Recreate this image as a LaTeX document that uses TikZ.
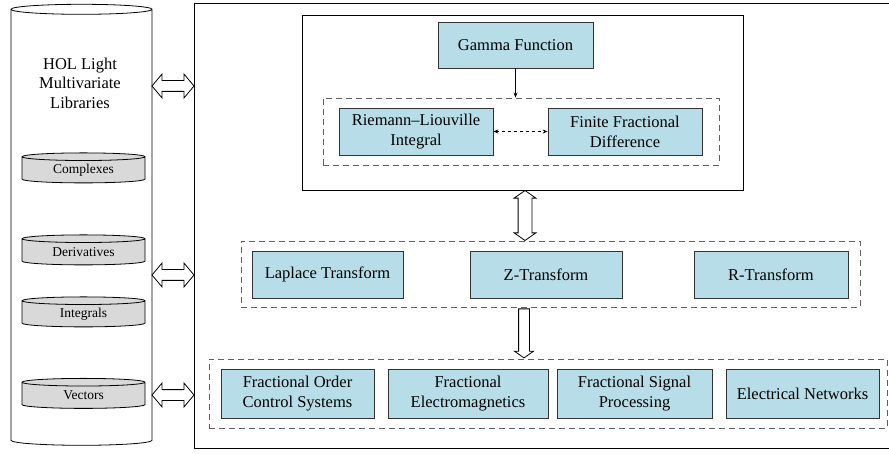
\documentclass[tikz,border=0pt]{standalone}
\usepackage{fontspec}
\setmainfont{Liberation Serif}
\usetikzlibrary{arrows.meta,shapes.geometric,shapes.arrows}
\definecolor{boxblue}{HTML}{B7DDE8}
\definecolor{dbgray}{HTML}{D9D9D9}
\definecolor{dashgray}{HTML}{5F5F5F}

\begin{document}
\begin{tikzpicture}[x=1pt,y=-1pt]
\useasboundingbox (0,0) rectangle (889,454);

% library side
\begin{scope}[every node/.style={cylinder,shape border rotate=90,draw,line width=0.8pt,
              inner sep=0pt,align=center,font=\fontsize{13.5}{16}\selectfont}]
    \node[aspect=0.071,text width=141,minimum height=441] (HOL) at (81.5,227.5) {};
    \node[fill=dbgray,aspect=0.062,text width=123,minimum height=30] (CX) at (83.5,170) {Complexes};
    \node[fill=dbgray,aspect=0.062,text width=123,minimum height=30] (DV) at (83.5,252) {Derivatives};
    \node[fill=dbgray,aspect=0.062,text width=123,minimum height=30] (IG) at (83.5,314) {Integrals};
    \node[fill=dbgray,aspect=0.062,text width=123,minimum height=30] (VC) at (83.5,395.5) {Vectors};
\end{scope}
\node[align=center,font=\fontsize{16.5}{19.5}\selectfont] (HOLtxt) at (80,83) {HOL Light\\Multivariate\\Libraries};

% frames
\begin{scope}[every node/.style={draw,line width=0.9pt,inner sep=0pt}]
    \node[minimum width=696,minimum height=445.5] (FR) at (542,225.75) {};
    \node[minimum width=441,minimum height=175] (TOP) at (522.5,102.5) {};
\end{scope}
\begin{scope}[every node/.style={draw=dashgray,line width=0.9pt,dash pattern=on 6pt off 4pt,inner sep=0pt}]
    \node[minimum width=396,minimum height=67] (FRAC) at (521,131.5) {};
    \node[minimum width=619,minimum height=66] (TRANS) at (550.5,274) {};
    \node[minimum width=678,minimum height=69] (APP) at (548,393.5) {};
\end{scope}

% blue boxes
\begin{scope}[every node/.style={draw=black!80,line width=0.8pt,fill=boxblue,align=center,
              inner sep=0pt,font=\fontsize{16.5}{20}\selectfont}]
    \node[minimum width=155,minimum height=46] (GF) at (515.5,45) {Gamma Function};
    \node[minimum width=154,minimum height=47] (RL) at (416,131.5) {Riemann--Liouville\\Integral};
    \node[minimum width=154,minimum height=47] (FFD) at (625,131.5) {Finite Fractional\\Difference};
    \node[minimum width=151,minimum height=47] (LT) at (327.5,274.5) {Laplace Transform};
    \node[minimum width=152,minimum height=47] (ZT) at (546,274.5) {Z-Transform};
    \node[minimum width=154,minimum height=47] (RT) at (771,274.5) {R-Transform};
    \node[minimum width=153,minimum height=49] (FOCS) at (297.5,393.5) {Fractional Order\\Control Systems};
    \node[minimum width=160,minimum height=49] (FE) at (468,393.5) {Fractional\\Electromagnetics};
    \node[minimum width=155,minimum height=49] (FSP) at (634.5,393.5) {Fractional Signal\\Processing};
    \node[minimum width=153,minimum height=49] (EN) at (802.5,393.5) {Electrical Networks};
\end{scope}

% block arrows
\begin{scope}[every node/.style={draw,line width=0.8pt,fill=white}]
    \node[double arrow,inner sep=5pt,double arrow head extend=6.5,double arrow tip angle=100,
          minimum height=42] (A1) at (173,86) {};
    \node[double arrow,inner sep=5pt,double arrow head extend=6.5,double arrow tip angle=100,
          minimum height=42] (A2) at (173,275) {};
    \node[double arrow,inner sep=5pt,double arrow head extend=6.5,double arrow tip angle=100,
          minimum height=42] (A3) at (173,395) {};
    \node[double arrow,shape border rotate=90,inner sep=6.5pt,double arrow head extend=4,
          double arrow tip angle=110,minimum height=50] (A4) at (525,215.5) {};
    \node[single arrow,shape border rotate=270,inner sep=5pt,single arrow head extend=4,
          single arrow tip angle=110,minimum height=49] (A5) at (524,331.5) {};
\end{scope}

% connectors
\begin{scope}[>={Stealth[length=5pt,width=4pt]},line width=0.8pt]
    \draw [->] (GF.south) -- (GF.south |- FRAC.north);
    \path [<->] (RL) edge[dashed] (FFD);
\end{scope}
\end{tikzpicture}
\end{document}
